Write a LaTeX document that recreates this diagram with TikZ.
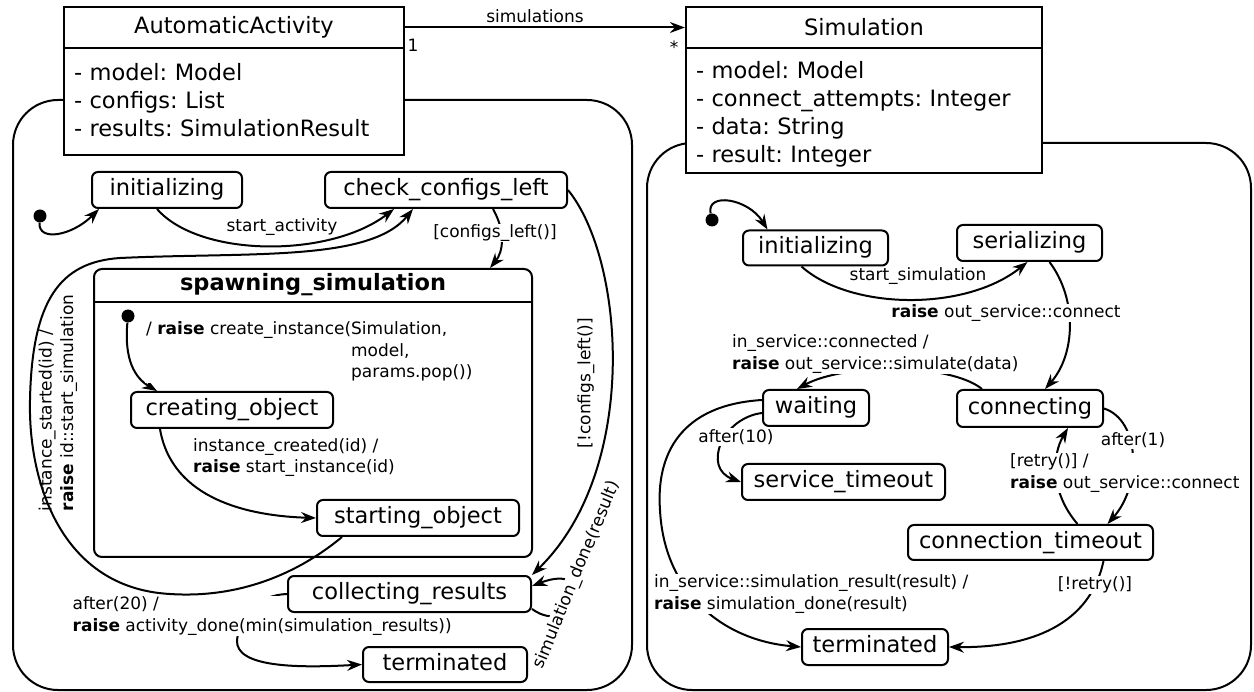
\documentclass[tikz,border=0pt]{standalone}
\usepackage{fontspec}
\setmainfont{DejaVu Sans}
\usetikzlibrary{arrows.meta}
\pgfdeclarelayer{back}
\pgfdeclarelayer{mid}
\pgfdeclarelayer{labs}
\pgfsetlayers{back,mid,labs,main}
\newcommand\myStateFont{\fontsize{22.5}{28}\selectfont\frenchspacing}
\newcommand\myLabFont{\fontsize{17}{21.5}\selectfont\frenchspacing}
\begin{document}
\begin{tikzpicture}[x=1pt,y=-1pt,
 stbox/.style={draw, line width=2pt, rounded corners=6pt, fill=white, minimum height=36pt, inner sep=0pt, font=\myStateFont, text height=16.5pt, text depth=5pt},
 cls/.style={draw, line width=2.2pt, fill=white, inner sep=0pt, font=\myStateFont},
 clstext/.style={font=\myStateFont, inner sep=0pt, align=left},
 lab/.style={font=\myLabFont, fill=white, inner sep=1pt},
 labn/.style={font=\myLabFont, inner sep=1pt},
 tr/.style={line width=2pt, -{Stealth[length=15pt,width=11pt,inset=5pt]}},
 initdot/.style={circle, fill=black, inner sep=0pt, minimum size=13pt}]

\useasboundingbox (0,0) rectangle (1254,692);

% composite state regions
\begin{pgfonlayer}{back}
\node[draw, line width=2pt, rounded corners=45pt, minimum width=619pt, minimum height=590pt, inner sep=0pt] (actL) at (322.5,395) {};
\node[draw, line width=2pt, rounded corners=45pt, minimum width=604pt, minimum height=547pt, inner sep=0pt] (actR) at (949,416.5) {};
\end{pgfonlayer}

% classes
\node[cls, minimum width=340pt, minimum height=41pt] (aa) at (234,27.5) {AutomaticActivity};
\node[cls, minimum width=340pt, minimum height=107pt] (aab) at (234,101.5) {};
\node[clstext, text width=320pt] (aat) at (234,100.5) {- model: Model\\- configs: List\\- results: SimulationResult};
\node[cls, minimum width=356pt, minimum height=41pt] (sim) at (864,27.5) {Simulation};
\node[cls, minimum width=356pt, minimum height=125pt] (simb) at (864,110.5) {};
\node[clstext, text width=336pt] (simt) at (864,114) {- model: Model\\- connect\_attempts: Integer\\- data: String\\- result: Integer};

\node[labn] (asn) at (535,16) {simulations};
\node[labn] (m1) at (413,45) {1};
\node[labn] (m2) at (674,47) {*};

% left states
\node[stbox, minimum width=150pt] (iniL) at (167,190) {initializing};
\node[stbox, minimum width=242pt] (chk) at (446,190) {check\_configs\_left};
\node[draw, line width=2pt, rounded corners=8pt, minimum width=438pt, minimum height=288pt, inner sep=0pt] (spawn) at (313,413) {};
\draw[line width=2pt] (94,302) -- (532,302);
\node[font={\myStateFont\bfseries}] (spawnt) at (313,285) {spawning\_simulation};
\node[initdot] (d1) at (40,216) {};
\node[initdot] (d2) at (128,316) {};
\node[stbox, minimum width=202pt] (crea) at (232,410) {creating\_object};
\node[stbox, minimum width=202pt] (start) at (418,518) {starting\_object};
\node[stbox, minimum width=243pt] (coll) at (409.5,594) {collecting\_results};
\node[stbox, minimum width=164pt, minimum height=35pt] (termL) at (445,664.5) {terminated};

% right states
\node[initdot] (d3) at (712,220) {};
\node[stbox, minimum width=145pt, minimum height=35pt] (iniR) at (815.5,248) {initializing};
\node[stbox, minimum width=145pt] (ser) at (1029.5,243) {serializing};
\node[stbox, minimum width=146pt, minimum height=37pt] (conn) at (1030,408.5) {connecting};
\node[stbox, minimum width=106pt] (wait) at (816,408) {waiting};
\node[stbox, minimum width=203pt] (stime) at (843.5,482) {service\_timeout};
\node[stbox, minimum width=245pt, minimum height=35pt] (ctime) at (1030.5,542.5) {connection\_timeout};
\node[stbox, minimum width=146pt] (termR) at (875,647) {terminated};

% connectors
\begin{pgfonlayer}{mid}
\draw[tr] (aa.east) -- (sim.west);
% left
\draw[tr] (d1) .. controls (38,242) and (72,236) .. ([xshift=-68pt]iniL.south);
\draw[tr] ([xshift=-10pt]iniL.south) .. controls (200,258) and (330,258) .. ([xshift=-52pt]chk.south);
\draw[tr] ([xshift=-76pt]start.south) .. controls (290,580) and (230,598) .. (170,594) .. controls (60,588) and (28,480) .. (30,400) .. controls (32,300) and (60,262) .. (120,258) .. controls (250,252) and (370,262) .. ([xshift=-33pt]chk.south);
\draw[tr] ([xshift=47pt]chk.south) .. controls (506,232) and (503,252) .. ([xshift=177pt]spawn.north);
\draw[tr] (chk.east) .. controls (625,260) and (640,470) .. (coll.north east);
\draw[tr] (d2) .. controls (124,360) and (135,378) .. ([xshift=-75pt]crea.north);
\draw[tr] ([xshift=-72pt]crea.south) .. controls (172,500) and (250,516) .. (start.west);
\draw[tr] ([yshift=4pt]coll.south east) .. controls (575,640) and (600,560) .. ([yshift=8pt]coll.east);
\draw[tr] (coll.west) .. controls (258,595) and (240,615) .. (237,640) .. controls (235,668) and (300,668) .. (termL.west);
% right
\draw[tr] (d3) .. controls (706,192) and (748,198) .. ([xshift=-48pt]iniR.north);
\draw[tr] ([xshift=-14pt]iniR.south) .. controls (850,310) and (965,312) .. ([xshift=-2pt]ser.south);
\draw[tr] ([xshift=20pt]ser.south) .. controls (1078,300) and (1075,355) .. ([xshift=15pt]conn.north);
\draw[tr] ([xshift=-48pt]conn.north) .. controls (950,363) and (845,363) .. ([xshift=-19pt]wait.north);
\draw[tr] ([yshift=-5pt]wait.west) .. controls (722,418) and (702,468) .. (stime.west);
\draw[tr] ([yshift=8pt]wait.west) .. controls (680,405) and (656,455) .. (660,510) .. controls (664,590) and (720,640) .. (termR.west);
\draw[tr] (conn.east) .. controls (1140,420) and (1142,485) .. ([xshift=77pt]ctime.north);
\draw[tr] ([xshift=47pt]ctime.north) .. controls (1050,492) and (1052,455) .. ([xshift=38pt]conn.south);
\draw[tr] ([xshift=73pt]ctime.south) .. controls (1090,625) and (1030,648) .. (termR.east);
\end{pgfonlayer}

% labels
\begin{pgfonlayer}{labs}
\node[labn] (lsa) at (282,227) {start\_activity};
\node[lab] (lcl) at (495,233) {[configs\_left()]};
\node[lab, rotate=90] (lncl) at (586,383) {[!configs\_left()]};
\node[lab, anchor=west, align=left] (lcreate) at (145,352) {/ \textbf{raise} create\_instance(Simulation,\\\phantom{/ \textbf{raise} create\_instance(}model,\\\phantom{/ \textbf{raise} create\_instance(}params.pop())};
\node[lab, anchor=west, align=left] (lic) at (192,457.5) {instance\_created(id) /\\\textbf{raise} start\_instance(id)};
\node[labn, rotate=90, align=left] (lis) at (58,403) {instance\_started(id) /\\\textbf{raise} id::start\_simulation};
\node[lab, rotate=67.6] (lsd) at (577,575) {simulation\_done(result)};
\node[lab, anchor=west, align=left, inner sep=0.5pt] (la20) at (72,616) {after(20) /\\\textbf{raise} activity\_done(min(simulation\_results))};
\node[labn] (lss) at (918,276) {start\_simulation};
\node[lab] (loc) at (1006,313) {\textbf{raise} out\_service::connect};
\node[lab, anchor=west, align=left] (lcon) at (731,354) {in\_service::connected /\\\textbf{raise} out\_service::simulate(data)};
\node[lab] (la10) at (736,437) {after(10)};
\node[lab] (la1) at (1133,440) {after(1)};
\node[lab, anchor=west, align=left] (lre) at (1009,473) {[retry()] /\\\textbf{raise} out\_service::connect};
\node[lab] (lnre) at (1095,585) {[!retry()]};
\node[lab, anchor=west, align=left] (lsr) at (653,594) {in\_service::simulation\_result(result) /\\\textbf{raise} simulation\_done(result)};
\end{pgfonlayer}
\end{tikzpicture}
\end{document}
